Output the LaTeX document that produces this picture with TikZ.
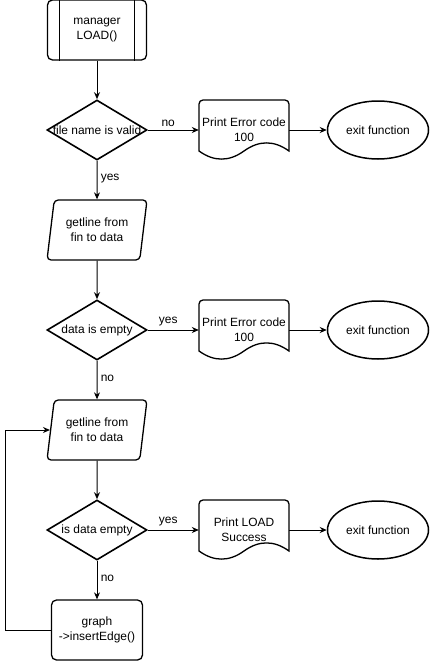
\documentclass[tikz,border=0pt]{standalone}
\usepackage{fontspec}
\setmainfont{Liberation Sans}
\usetikzlibrary{shapes,arrows.meta,positioning}

\begin{document}
\begin{tikzpicture}[
  every node/.style={font=\fontsize{12}{15}\selectfont,align=center},
  proc/.style={draw,line width=1.3bp,rounded corners=5bp,minimum width=99bp,minimum height=60bp,inner sep=0pt},
  dec/.style={draw,diamond,line width=1.6bp,minimum width=100bp,minimum height=60bp,inner sep=0pt},
  io/.style={draw,trapezium,trapezium left angle=73,trapezium right angle=107,trapezium stretches body=true,line width=1.3bp,rounded corners=4bp,minimum width=100bp,minimum height=60bp,inner sep=0pt},
  doc/.style={minimum width=90bp,minimum height=60bp,inner sep=0pt},
  term/.style={draw,ellipse,line width=1.5bp,minimum width=101bp,minimum height=58bp,inner sep=0pt},
  arr/.style={-{Stealth[length=7bp,width=6bp]},line width=1bp}
]
\useasboundingbox (0bp,0bp) rectangle (430bp,-662bp);

\node (mgr) at (97bp,-30bp)[proc] {manager\\LOAD()};
\node (fnv) at (97bp,-130bp)[dec,label=center:file name is valid] {};
\node (err1) at (244bp,-130bp)[doc] {Print Error code\\100};
\node (ex1) at (378bp,-130bp)[term] {exit function};
\node (get1) at (97bp,-230bp)[io] {getline from\\fin to data};
\node (emp1) at (97bp,-330bp)[dec,label=center:data is empty] {};
\node (err2) at (244bp,-330bp)[doc] {Print Error code\\100};
\node (ex2) at (378bp,-330bp)[term] {exit function};
\node (get2) at (97bp,-430bp)[io] {getline from\\fin to data};
\node (emp2) at (97bp,-530bp)[dec,label=center:is data empty] {};
\node (succ) at (244bp,-530bp)[doc] {Print LOAD\\Success};
\node (ex3) at (378bp,-530bp)[term] {exit function};
\node (ins) at (97bp,-630bp)[proc,minimum width=91bp] {graph\\->insertEdge()};

% side bars of the predefined process
\draw[line width=1bp] ([xshift=13bp]mgr.north west) -- ([xshift=13bp]mgr.south west);
\draw[line width=1bp] ([xshift=-13bp]mgr.north east) -- ([xshift=-13bp]mgr.south east);

% document outlines
\foreach \n in {err1,err2,succ}
  \draw[line width=1.3bp,shift={(\n.center)}] (-45bp,-21bp) [rounded corners=4bp] -- (-45bp,30bp) -- (45bp,30bp) [sharp corners] -- (45bp,-21bp)
    .. controls (30bp,-10.2bp) and (15bp,-10.2bp) .. (0bp,-21bp)
    .. controls (-15bp,-31.8bp) and (-30bp,-31.8bp) .. (-45bp,-21bp) -- cycle;

\draw [arr] (mgr) -- (fnv);
\draw [arr] (fnv) -- node[pos=0.4,above] {no} (err1);
\draw [arr] (err1) -- (ex1);
\draw [arr] (fnv) -- node[pos=0.45,right] {yes} (get1);
\draw [arr] (get1) -- (emp1);
\draw [arr] (emp1) -- node[pos=0.4,above] {yes} (err2);
\draw [arr] (err2) -- (ex2);
\draw [arr] (emp1) -- node[pos=0.45,right] {no} (get2);
\draw [arr] (get2) -- (emp2);
\draw [arr] (emp2) -- node[pos=0.4,above] {yes} (succ);
\draw [arr] (succ) -- (ex3);
\draw [arr] (emp2) -- node[pos=0.45,right] {no} (ins);
\draw [arr] (ins.west) -- ++(-45bp,0bp) |- (get2.west);
\end{tikzpicture}
\end{document}
